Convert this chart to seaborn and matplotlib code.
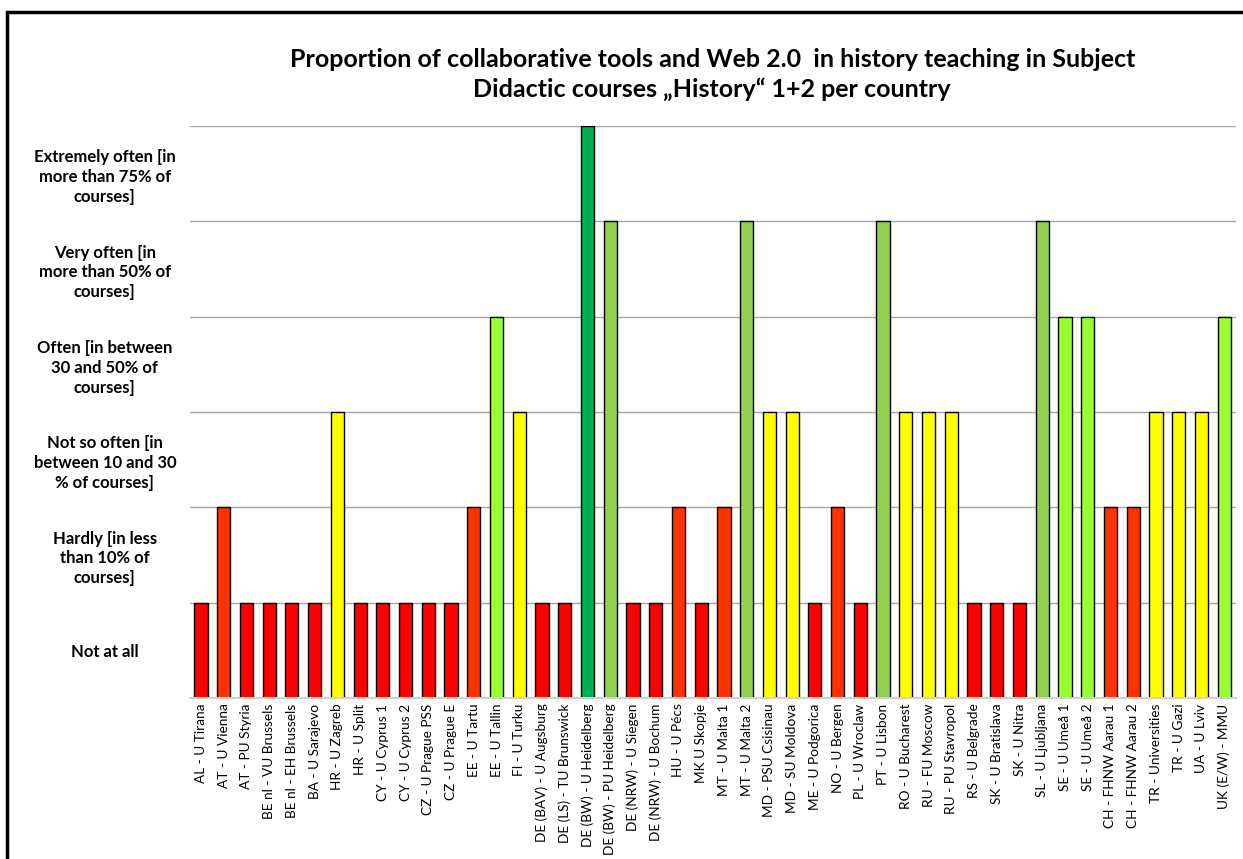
import matplotlib
matplotlib.use("Agg")
import matplotlib.pyplot as plt
import matplotlib.patches as mpatches
import seaborn as sns
import pandas as pd

sns.set_style("white")
plt.rcParams["font.family"] = ["Lato", "DejaVu Sans"]
plt.rcParams["text.color"] = "black"
plt.rcParams["xtick.color"] = "black"
plt.rcParams["ytick.color"] = "black"

institutions = [
    "AL - U Tirana", "AT - U Vienna", "AT - PU Styria", "BE nl - VU Brussels",
    "BE nl - EH Brussels", "BA - U Sarajevo", "HR - U Zagreb", "HR - U Split",
    "CY - U Cyprus 1", "CY - U Cyprus 2", "CZ - U Prague PSS", "CZ - U Prague E",
    "EE - U Tartu", "EE - U Tallin", "FI - U Turku", "DE (BAV) - U Augsburg",
    "DE (LS) - TU Brunswick", "DE (BW) - U Heidelberg", "DE (BW) - PU Heidelberg",
    "DE (NRW) - U Siegen", "DE (NRW) - U Bochum", "HU - U Pécs", "MK U Skopje",
    "MT - U Malta 1", "MT - U Malta 2", "MD - PSU Csisinau", "MD - SU Moldova",
    "ME - U Podgorica", "NO - U Bergen", "PL - U Wroclaw", "PT - U Lisbon",
    "RO - U Bucharest", "RU - FU Moscow", "RU - PU Stavropol", "RS - U Belgrade",
    "SK - U Bratislava", "SK - U Nitra", "SL - U Ljubljana", "SE - U Umeå 1",
    "SE - U Umeå 2", "CH - FHNW Aarau 1", "CH - FHNW Aarau 2", "TR - Universities",
    "TR - U Gazi", "UA - U Lviv", "UK (E/W) - MMU",
]

# Frequency level per institution (1 = not at all ... 6 = extremely often)
levels = [
    1, 2, 1, 1, 1, 1, 3, 1, 1, 1, 1, 1, 2, 4, 3, 1, 1, 6, 5, 1, 1, 2, 1,
    2, 5, 3, 3, 1, 2, 1, 5, 3, 3, 3, 1, 1, 1, 5, 4, 4, 2, 2, 3, 3, 3, 4,
]

level_labels = [
    "Not at all",
    "Hardly [in less\nthan 10% of\ncourses]",
    "Not so often [in\nbetween 10 and 30\n% of courses]",
    "Often [in between\n30 and 50% of\ncourses]",
    "Very often [in\nmore than 50% of\ncourses]",
    "Extremely often [in\nmore than 75% of\ncourses]",
]

level_colors = {
    1: "#FF0000",
    2: "#FF3300",
    3: "#FFFF00",
    4: "#99FF33",
    5: "#92D050",
    6: "#00B050",
}

df = pd.DataFrame({"institution": institutions, "level": levels})

fig = plt.figure(figsize=(12.43, 8.59), dpi=100)
ax = fig.add_axes([0.1525, 0.1874, 0.8415, 0.6659])

sns.barplot(
    data=df, x="institution", y="level", hue="level",
    palette=level_colors, dodge=False, legend=False, saturation=1,
    edgecolor="black", linewidth=1.0, width=0.58, ax=ax,
)

ax.set_ylim(0, 6)
ax.set_xlim(-0.5, len(institutions) - 0.5)
ax.set_xlabel("")
ax.set_ylabel("")

# Horizontal grid at each level boundary
ax.set_yticks(range(0, 7))
ax.set_yticklabels([])
ax.tick_params(axis="y", which="major", length=0)
ax.yaxis.grid(True, color="#A6A6A6", linewidth=1.0)
ax.set_axisbelow(True)

# Level descriptions centred inside each band
ax.set_yticks([i + 0.5 for i in range(6)], minor=True)
ax.set_yticklabels(level_labels, minor=True, fontsize=12, fontweight="bold",
                   linespacing=1.3)
ax.tick_params(axis="y", which="minor", length=0, pad=61)
for t in ax.get_yticklabels(minor=True):
    t.set_horizontalalignment("center")
    t.set_multialignment("center")

ax.tick_params(axis="x", length=0, pad=4)
ax.set_xticks(range(len(institutions)))
ax.set_xticklabels(institutions, rotation=90, fontsize=9.8)

for side in ("top", "right", "left"):
    ax.spines[side].set_visible(False)
ax.spines["bottom"].set_color("#D0D0D0")
ax.spines["bottom"].set_linewidth(1.5)

fig.text(0.573, 1 - 74.5 / 859,
         "Proportion of collaborative tools and Web 2.0  in history teaching in Subject\n"
         "Didactic courses \u201eHistory\u201c 1+2 per country",
         ha="center", va="center", fontsize=18, fontweight="bold",
         linespacing=1.3)

# Outer frame
frame = mpatches.Rectangle((7 / 1243, -0.05), 1.1, 0.05 + (859 - 12) / 859,
                           transform=fig.transFigure, fill=False,
                           edgecolor="black", linewidth=2.5)
fig.patches.append(frame)

fig.savefig("out.png", dpi=100)
